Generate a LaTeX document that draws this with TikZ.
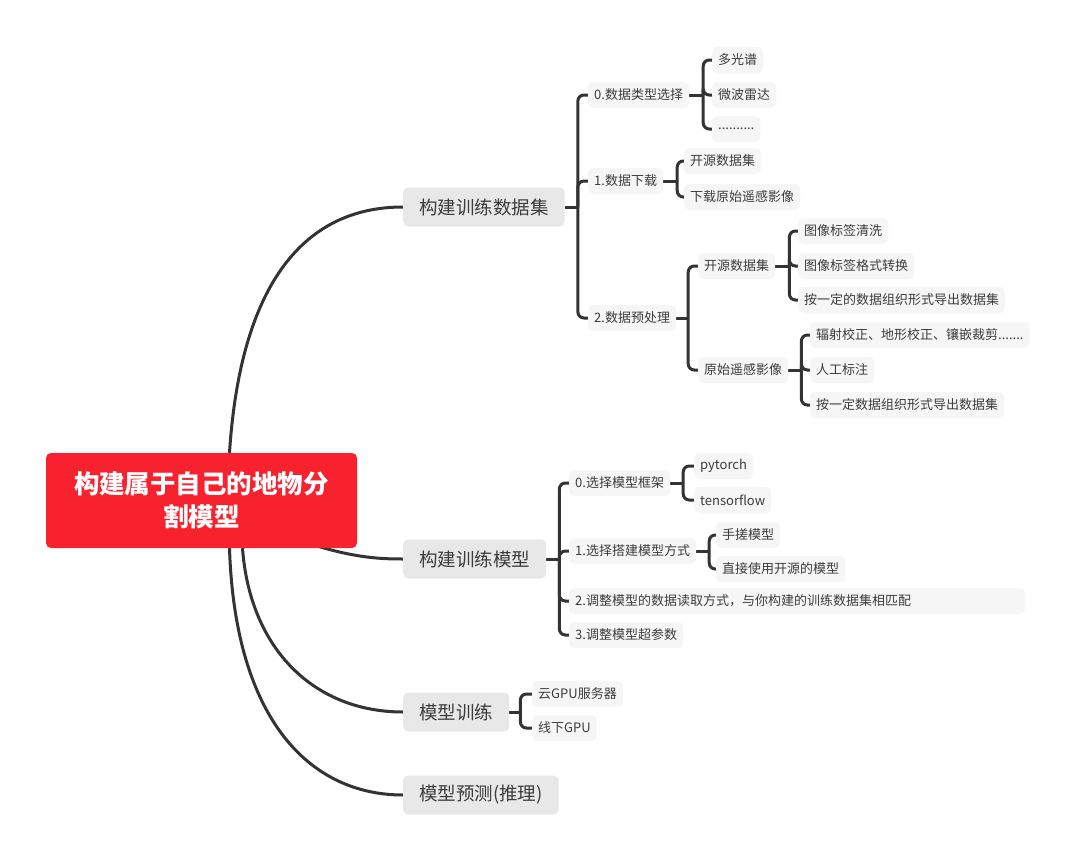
\documentclass[tikz,border=0pt]{standalone}
\usepackage{fontspec}
\setmainfont{Noto Sans CJK SC}
\usetikzlibrary{backgrounds}
\definecolor{rootred}{RGB}{248,33,46}
\definecolor{topicgrey}{RGB}{232,232,232}
\definecolor{leafgrey}{RGB}{246,246,246}
\definecolor{inkgrey}{RGB}{60,60,60}
\definecolor{linkgrey}{RGB}{51,51,51}
\tikzset{
  root/.style={fill=rootred, text=white, rounded corners=5, align=center,
    font=\fontsize{25.5}{33}\selectfont\bfseries, minimum width=311, minimum height=95, inner sep=0},
  topic/.style={anchor=west, fill=topicgrey, text=inkgrey, rounded corners=5,
    font=\fontsize{18.5}{22}\selectfont, inner xsep=16, minimum height=39},
  leaf/.style={anchor=west, fill=leafgrey, text=inkgrey, rounded corners=5,
    font=\fontsize{13}{15}\selectfont, inner xsep=6, minimum height=26},
  link/.style={line width=3, draw=linkgrey, rounded corners=6},
}
\begin{document}
\begin{tikzpicture}[x=1pt,y=-1pt]
  \useasboundingbox (0,0) rectangle (1080,862);
  % Root
  \node[root] (root) at (201.5,500.5) {构建属于自己的地物分\\割模型};
  % Main branches
  \node[topic] (data) at (403,207) {构建训练数据集};
  \node[topic] (model) at (403,559) {构建训练模型};
  \node[topic] (train) at (403,712) {模型训练};
  \node[topic] (infer) at (403,795) {模型预测(推理)};
  % Dataset
  \node[leaf] (type) at (588,95) {0.数据类型选择};
  \node[leaf] (down) at (588,181) {1.数据下载};
  \node[leaf] (prep) at (588,318) {2.数据预处理};
  \node[leaf] (multi) at (712,60) {多光谱};
  \node[leaf] (radar) at (712,95) {微波雷达};
  \node[leaf] (etc) at (712,129) {..........};
  \node[leaf] (open) at (684,161) {开源数据集};
  \node[leaf] (raw) at (684,197) {下载原始遥感影像};
  \node[leaf] (popen) at (698,266) {开源数据集};
  \node[leaf] (praw) at (698,370) {原始遥感影像};
  \node[leaf] (clean) at (798,231) {图像标签清洗};
  \node[leaf] (conv) at (798,266) {图像标签格式转换};
  \node[leaf] (exp1) at (798,300) {按一定的数据组织形式导出数据集};
  \node[leaf] (corr) at (810,335) {辐射校正、地形校正、镶嵌裁剪.......};
  \node[leaf] (label) at (810,370) {人工标注};
  \node[leaf] (exp2) at (810,405) {按一定数据组织形式导出数据集};
  % Model
  \node[leaf] (frame) at (569,483) {0.选择模型框架};
  \node[leaf] (build) at (569,551) {1.选择搭建模型方式};
  \node[leaf, text width=444, align=left] (read) at (569,601) {2.调整模型的数据读取方式，与你构建的训练数据集相匹配};
  \node[leaf] (hyper) at (569,635) {3.调整模型超参数};
  \node[leaf] (torch) at (694,466) {pytorch};
  \node[leaf] (tflow) at (694,500) {tensorflow};
  \node[leaf] (hand) at (716,535) {手搓模型};
  \node[leaf] (reuse) at (716,569) {直接使用开源的模型};
  % Training
  \node[leaf] (cloud) at (532,694) {云GPU服务器};
  \node[leaf] (local) at (532,728) {线下GPU};
  % Connectors
  \begin{scope}[on background layer]
    \fill[white] (0,0) rectangle (1080,862);
    \draw[link] ([xshift=28]root.north) .. controls (240,290) and (300,207) .. (data.west);
    \draw[link] (root.center) .. controls (321,555) and (363,559) .. (model.west);
    \draw[link] ([xshift=41]root.south) .. controls (250,650) and (315,712) .. (train.west);
    \draw[link] ([xshift=28]root.south) .. controls (235,720) and (310,795) .. (infer.west);
    \draw[link] (data.east) -- ++(13,0) coordinate (jdata);
    \foreach \c in {type,down,prep} \draw[link] (jdata) |- (\c.west);
    \draw[link] (type.east) -- ++(14,0) coordinate (jtype);
    \foreach \c in {multi,radar,etc} \draw[link] (jtype) |- (\c.west);
    \draw[link] (down.east) -- ++(14,0) coordinate (jdown);
    \foreach \c in {open,raw} \draw[link] (jdown) |- (\c.west);
    \draw[link] (prep.east) -- ++(12,0) coordinate (jprep);
    \foreach \c in {popen,praw} \draw[link] (jprep) |- (\c.west);
    \draw[link] (popen.east) -- ++(14,0) coordinate (jpopen);
    \foreach \c in {clean,conv,exp1} \draw[link] (jpopen) |- (\c.west);
    \draw[link] (praw.east) -- ++(13,0) coordinate (jpraw);
    \foreach \c in {corr,label,exp2} \draw[link] (jpraw) |- (\c.west);
    \draw[link] (model.east) -- ++(13,0) coordinate (jmodel);
    \foreach \c in {frame,build,read,hyper} \draw[link] (jmodel) |- (\c.west);
    \draw[link] (frame.east) -- ++(13,0) coordinate (jframe);
    \foreach \c in {torch,tflow} \draw[link] (jframe) |- (\c.west);
    \draw[link] (build.east) -- ++(13,0) coordinate (jbuild);
    \foreach \c in {hand,reuse} \draw[link] (jbuild) |- (\c.west);
    \draw[link] (train.east) -- ++(11,0) coordinate (jtrain);
    \foreach \c in {cloud,local} \draw[link] (jtrain) |- (\c.west);
  \end{scope}
\end{tikzpicture}
\end{document}
